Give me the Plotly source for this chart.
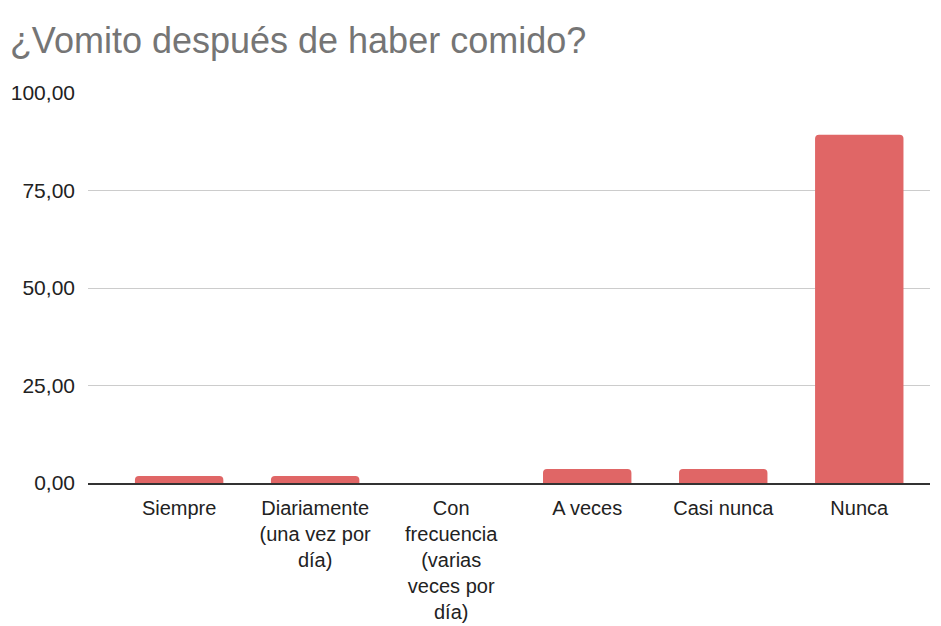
import plotly.graph_objects as go

categories = [
    "Siempre",
    "Diariamente<br>(una vez por<br>día)",
    "Con<br>frecuencia<br>(varias<br>veces por<br>día)",
    "A veces",
    "Casi nunca",
    "Nunca",
]
values = [1.79, 1.79, 0.0, 3.57, 3.57, 89.29]
y_ticks = [0, 25, 50, 75, 100]

FONT = "Liberation Sans, Arial, sans-serif"

fig = go.Figure(
    go.Bar(x=categories, y=values, marker=dict(color="#e06666", line=dict(width=0)),
           hoverinfo="x+y")
)

fig.update_layout(
    width=941,
    height=626,
    paper_bgcolor="white",
    plot_bgcolor="white",
    separators=",.",
    font=dict(family=FONT, size=20, color="#222222"),
    title=dict(
        text="¿Vomito después de haber comido?",
        x=0.0105,
        xanchor="left",
        y=0.935,
        yanchor="middle",
        font=dict(family=FONT, size=36, color="#757575"),
    ),
    margin=dict(l=88, r=11, t=93, b=143),
    bargap=0.35,
    barcornerradius=4,
    showlegend=False,
)

fig.update_xaxes(
    range=[-0.67, 5.52],
    showgrid=False,
    showline=True,
    linecolor="#333333",
    linewidth=2,
    ticks="",
    automargin=False,
    ticklabelstandoff=6,
    tickfont=dict(size=20, color="#222222"),
    tickangle=0,
)

fig.update_yaxes(
    range=[0, 100],
    tickvals=y_ticks,
    tickformat=".2f",
    showgrid=True,
    gridcolor="#cccccc",
    gridwidth=1,
    zeroline=False,
    showline=False,
    ticks="",
    automargin=False,
    ticklabelstandoff=12,
    tickfont=dict(size=21, color="#222222"),
)

fig.write_html(
    "out.html",
    config={"displayModeBar": False},
    post_script="document.body.style.margin='0';document.body.style.padding='0';document.body.style.overflow='hidden';",
)
